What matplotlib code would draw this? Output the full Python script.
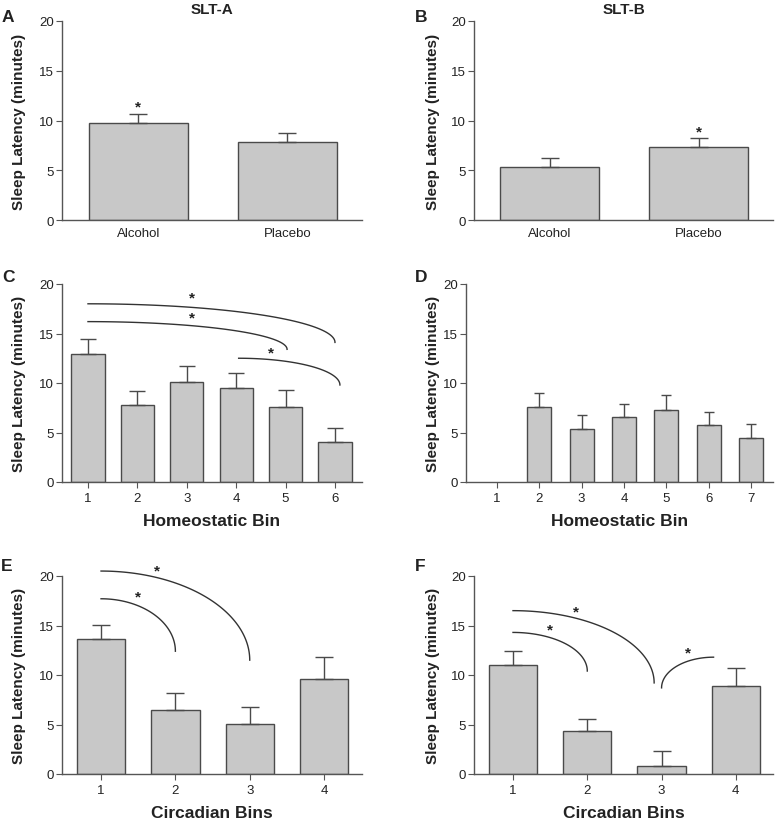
import numpy as np
import matplotlib
matplotlib.use("Agg")
import matplotlib.pyplot as plt

plt.rcParams['font.family'] = ['Liberation Sans', 'DejaVu Sans']

# ---------------- data ----------------
cond_labels = ["Alcohol", "Placebo"]
slt_a_mean = [9.7, 7.8]
slt_a_err = [1.0, 0.9]
slt_b_mean = [5.3, 7.3]
slt_b_err = [0.9, 0.9]

homeo_c_bins = [1, 2, 3, 4, 5, 6]
homeo_c_mean = [12.9, 7.8, 10.1, 9.5, 7.6, 4.0]
homeo_c_err = [1.5, 1.4, 1.6, 1.5, 1.7, 1.5]

homeo_d_bins = [1, 2, 3, 4, 5, 6, 7]
homeo_d_mean = [0.0, 7.6, 5.4, 6.6, 7.3, 5.8, 4.4]
homeo_d_err = [0.0, 1.4, 1.4, 1.3, 1.5, 1.3, 1.5]

circ_bins = [1, 2, 3, 4]
circ_e_mean = [13.6, 6.5, 5.1, 9.6]
circ_e_err = [1.5, 1.7, 1.7, 2.2]
circ_f_mean = [11.0, 4.3, 0.8, 8.9]
circ_f_err = [1.4, 1.3, 1.5, 1.8]

# significance arcs: (x_flat_end, y_flat, x_vertical_end, y_vertical_end, star_x, star_y)
arcs_c = [(1.0, 18.0, 6.0, 14.1, 3.1, 18.6),
          (1.0, 16.2, 5.03, 13.4, 3.1, 16.6),
          (4.05, 12.5, 6.1, 9.8, 4.7, 13.1)]
arcs_d = []
arcs_e = [(1.0, 20.5, 3.0, 11.5, 1.75, 20.6),
          (1.0, 17.7, 2.0, 12.4, 1.5, 17.9)]
arcs_f = [(1.0, 16.5, 2.9, 9.2, 1.85, 16.4),
          (1.0, 14.3, 2.0, 10.4, 1.5, 14.6),
          (3.7, 11.8, 3.0, 8.7, 3.35, 12.3)]

# single star over bars: (x, y)
stars_a = [(0, 11.4)]
stars_b = [(1, 8.9)]

W, H = 775, 820
fig = plt.figure(figsize=(W / 100, H / 100), dpi=100)

def px_axes(l, r, t, b):
    return fig.add_axes([l / W, 1 - b / H, (r - l) / W, (b - t) / H])

BAR_FC = "#c8c8c8"
BAR_EC = "#4a4a4a"
AX_C = "#555555"
TXT_C = "#222222"

def style(ax, xlim, xt, xtl, ticks=True):
    ax.set_ylim(0, 20)
    ax.set_xlim(*xlim)
    ax.set_yticks([0, 5, 10, 15, 20])
    ax.set_xticks(xt)
    ax.set_xticklabels(xtl)
    for s in ["top", "right"]:
        ax.spines[s].set_visible(False)
    for s in ["left", "bottom"]:
        ax.spines[s].set_color(AX_C)
        ax.spines[s].set_linewidth(1.0)
    ax.tick_params(axis="y", length=4, color=AX_C, labelsize=9.5, pad=2, labelcolor=TXT_C)
    ax.tick_params(axis="x", length=4 if ticks else 0, color=AX_C, labelsize=9.5,
                   pad=3 if ticks else 5, labelcolor=TXT_C)

def bars(ax, x, m, e, width, capsize):
    x = np.asarray(x, float)
    m = np.asarray(m, float)
    e = np.asarray(e, float)
    show = m > 0
    ax.bar(x[show], m[show], width=width, color=BAR_FC, edgecolor=BAR_EC, linewidth=1.0, zorder=2)
    ax.errorbar(x[show], m[show], yerr=[np.zeros(show.sum()), e[show]], fmt="none",
                ecolor=BAR_EC, elinewidth=1.0, capsize=capsize, capthick=1.0, zorder=3)

def draw_arcs(ax, arcs):
    for (x0, y0, x1, y1, sx, sy) in arcs:
        t = np.linspace(0, np.pi / 2, 100)
        # ellipse quadrant: horizontal tangent at (x0,y0), vertical tangent at (x1,y1)
        xs = x0 + (x1 - x0) * np.sin(t)
        ys = y1 + (y0 - y1) * np.cos(t)
        ax.plot(xs, ys, color="#333333", lw=1.0, clip_on=False, zorder=4)
        ax.text(sx, sy, "*", ha="center", va="center", fontsize=11, fontweight="bold",
                clip_on=False, color=TXT_C)

def stars(ax, st):
    for (x, y) in st:
        ax.text(x, y, "*", ha="center", va="center", fontsize=11, fontweight="bold", color=TXT_C)

YL = "Sleep Latency (minutes)"

def ylab(ax, xfrac):
    ax.set_ylabel(YL, fontsize=11, fontweight="bold", color=TXT_C)
    ax.yaxis.set_label_coords(xfrac, 0.5)

def xlab(ax, text, yfrac):
    ax.set_xlabel(text, fontsize=12.5, fontweight="bold", color=TXT_C)
    ax.xaxis.set_label_coords(0.5, yfrac)

# Panel A
axA = px_axes(62, 362, 22, 221)
bars(axA, [0, 1], slt_a_mean, slt_a_err, 0.66, 6.5)
style(axA, (-0.513, 1.5), [0, 1], cond_labels, ticks=False)
stars(axA, stars_a)
ylab(axA, -0.12)
axA.set_title("SLT-A", fontsize=11, fontweight="bold", pad=6, color=TXT_C)

# Panel B
axB = px_axes(474, 773, 22, 221)
bars(axB, [0, 1], slt_b_mean, slt_b_err, 0.66, 6.5)
style(axB, (-0.507, 1.5), [0, 1], cond_labels, ticks=False)
stars(axB, stars_b)
ylab(axB, -0.114)
axB.set_title("SLT-B", fontsize=11, fontweight="bold", pad=6, color=TXT_C)

# Panel C
axC = px_axes(62, 362, 285, 483)
bars(axC, homeo_c_bins, homeo_c_mean, homeo_c_err, 0.67, 5.5)
style(axC, (0.474, 6.547), homeo_c_bins, [str(b) for b in homeo_c_bins])
draw_arcs(axC, arcs_c)
ylab(axC, -0.12)
xlab(axC, "Homeostatic Bin", -0.155)

# Panel D
axD = px_axes(466, 773, 285, 483)
bars(axD, homeo_d_bins, homeo_d_mean, homeo_d_err, 0.57, 3.8)
style(axD, (0.269, 7.52), homeo_d_bins, [str(b) for b in homeo_d_bins])
draw_arcs(axD, arcs_d)
ylab(axD, -0.085)
xlab(axD, "Homeostatic Bin", -0.155)

# Panel E
axE = px_axes(62, 362, 577, 775)
bars(axE, circ_bins, circ_e_mean, circ_e_err, 0.65, 6.5)
style(axE, (0.475, 4.51), circ_bins, [str(b) for b in circ_bins])
draw_arcs(axE, arcs_e)
ylab(axE, -0.12)
xlab(axE, "Circadian Bins", -0.155)

# Panel F
axF = px_axes(474, 773, 577, 775)
bars(axF, circ_bins, circ_f_mean, circ_f_err, 0.65, 6.5)
style(axF, (0.475, 4.5), circ_bins, [str(b) for b in circ_bins])
draw_arcs(axF, arcs_f)
ylab(axF, -0.114)
xlab(axF, "Circadian Bins", -0.155)

# panel letters
for letter, x, y in [("A", 2, 18), ("B", 415, 18), ("C", 2, 278), ("D", 415, 278),
                     ("E", 1, 567), ("F", 415, 567)]:
    fig.text(x / W, 1 - y / H, letter, fontsize=12.5, fontweight="bold", ha="left", va="center",
             color=TXT_C)

fig.savefig("out.png", dpi=100)
